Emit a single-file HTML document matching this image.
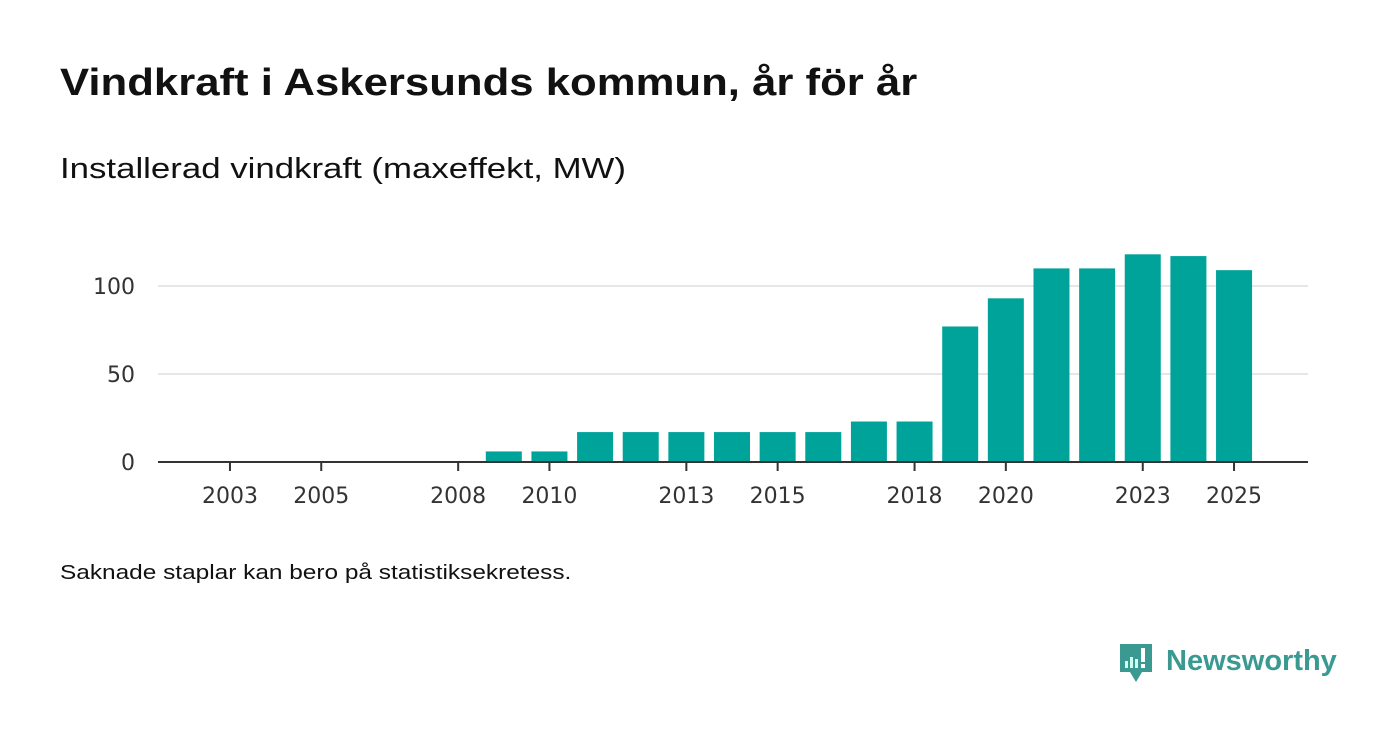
<!DOCTYPE html>
<html><head><meta charset="utf-8">
<style>
body{margin:0;background:#fff;width:1400px;height:745px;overflow:hidden;font-family:"Liberation Sans",sans-serif;color:#111;}
#title{position:absolute;left:60px;top:62px;font-size:38px;font-weight:bold;margin:0;transform:scaleX(1.15);transform-origin:0 0;white-space:nowrap;}
#subtitle{position:absolute;left:60px;top:153px;font-size:29px;transform:scaleX(1.2);transform-origin:0 0;white-space:nowrap;}
#note{position:absolute;left:60px;top:562px;font-size:20px;transform:scaleX(1.22);transform-origin:0 0;white-space:nowrap;}
#logo{position:absolute;left:1118px;top:642px;}
</style></head><body>
<h1 id="title">Vindkraft i Askersunds kommun, år för år</h1>
<div id="subtitle">Installerad vindkraft (maxeffekt, MW)</div>
<svg id="chart" width="1400" height="745" style="position:absolute;left:0;top:0"></svg>
<div id="note">Saknade staplar kan bero på statistiksekretess.</div>
<svg id="logo" width="230" height="46">
<path d="M2 2h32v28h-10l-6 10l-6-10h-10z" fill="#3a9a92"/>
<rect x="7" y="19" width="3" height="7" fill="#cfe"/><rect x="12" y="15" width="3" height="11" fill="#cfe"/><rect x="17" y="17" width="3" height="9" fill="#cfe"/><rect x="23" y="6" width="4" height="14" fill="#fff"/><rect x="23" y="22" width="4" height="4" fill="#fff"/>
<text x="48" y="28" font-family="Liberation Sans, sans-serif" font-size="29" font-weight="bold" fill="#3a9a92">Newsworthy</text>
</svg>
<script>
const years=[2002,2003,2004,2005,2006,2007,2008,2009,2010,2011,2012,2013,2014,2015,2016,2017,2018,2019,2020,2021,2022,2023,2024,2025,2026];
const values=[null,null,null,null,null,null,null,6,6,17,17,17,17,17,17,23,23,77,93,110,110,118,117,109,null];
const yTicks=[0,50,100];
const xTickLabels=[2003,2005,2008,2010,2013,2015,2018,2020,2023,2025];
const svg=document.getElementById('chart');
const NS='http://www.w3.org/2000/svg';
const x0=161.5,x1=1302.5,step=(x1-x0)/years.length,bw=36;
const y=v=>462-v*1.76;
const xc=yr=>x0+(years.indexOf(yr)+0.5)*step;
function mk(t,a){const e=document.createElementNS(NS,t);for(const k in a)e.setAttribute(k,a[k]);svg.appendChild(e);return e;}
yTicks.forEach(v=>{
 if(v>0){const g=mk('line',{x1:158,x2:1308,y1:y(v),y2:y(v),stroke:'#ddd','stroke-width':1.5});
 
 }
 const t=mk('text',{x:135,y:y(v)+8,'text-anchor':'end','font-size':22,fill:'#333','font-family':'DejaVu Sans, sans-serif'});
 t.textContent=v;
 
 
});
years.forEach((yr,i)=>{
 const v=values[i]; if(v==null)return;
 const r=mk('rect',{x:xc(yr)-bw/2,y:y(v),width:bw,height:462-y(v),fill:'#00a39a'});
 
 
});
const ax=mk('line',{x1:158,x2:1308,y1:462,y2:462,stroke:'#333','stroke-width':2});


xTickLabels.forEach(yr=>{
 const tk=mk('line',{x1:xc(yr),x2:xc(yr),y1:462,y2:471,stroke:'#333','stroke-width':2});
 
 
 const t=mk('text',{x:xc(yr),y:503,'text-anchor':'middle','font-size':22,fill:'#333','font-family':'DejaVu Sans, sans-serif'});
 t.textContent=yr;
 
 
});
</script>
</body></html>
